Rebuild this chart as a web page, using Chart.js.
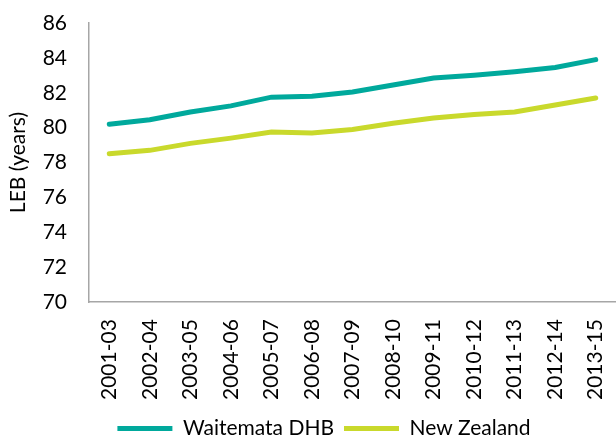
<!DOCTYPE html>
<html>
<head>
<meta charset="utf-8">
<script src="https://cdn.jsdelivr.net/npm/chart.js@4.4.1/dist/chart.umd.min.js"></script>
<style>
  html, body { margin: 0; padding: 0; background: #fff; }
  #wrap { width: 616px; height: 437px; }
</style>
</head>
<body>
<div id="wrap"><canvas id="leb"></canvas></div>
<script>
// periods (3-year windows)
var periods = ['2001-03', '2002-04', '2003-05', '2004-06', '2005-07', '2006-08', '2007-09',
               '2008-10', '2009-11', '2010-12', '2011-13', '2012-14', '2013-15'];

// life expectancy at birth, years
var waitemata = [80.2, 80.45, 80.9, 81.25, 81.75, 81.8, 82.05, 82.45, 82.85, 83.0, 83.2, 83.45, 83.9];
var newZealand = [78.5, 78.7, 79.1, 79.4, 79.75, 79.7, 79.9, 80.25, 80.55, 80.75, 80.9, 81.3, 81.7];

var yTicks = [70, 72, 74, 76, 78, 80, 82, 84, 86];

var FONT = 'Lato, "Open Sans", sans-serif';

// legend sits a bit right of centre and low in the original
var legendShift = {
    id: 'legendShift',
    afterLayout: function(chart) {
        var lg = chart.legend;
        if (lg) {
            lg.left += 32;
            lg.top -= 4;
            lg.bottom = chart.height;
        }
    }
};

var ctx = document.getElementById('leb').getContext('2d');
new Chart(ctx, {
    type: 'line',
    data: {
        labels: periods,
        datasets: [{
            label: 'Waitemata DHB',
            data: waitemata,
            borderColor: '#00a99c',
            backgroundColor: '#00a99c',
            borderWidth: 5,
            borderCapStyle: 'round',
            pointRadius: 0,
            tension: 0
        }, {
            label: 'New Zealand',
            data: newZealand,
            borderColor: '#c9d92c',
            backgroundColor: '#c9d92c',
            borderWidth: 5,
            borderCapStyle: 'round',
            pointRadius: 0,
            tension: 0
        }]
    },
    options: {
        responsive: true,
        maintainAspectRatio: false,
        animation: false,
        layout: { padding: { top: 23, right: 0, left: 0, bottom: 0 } },
        plugins: {
            tooltip: { enabled: false },
            legend: {
                position: 'bottom',
                maxHeight: 25,
                labels: {
                    usePointStyle: true,
                    pointStyle: 'line',
                    pointStyleWidth: 55,
                    padding: 10,
                    color: '#000',
                    font: { family: FONT, size: 21 }
                }
            }
        },
        scales: {
            x: {
                offset: true,
                grid: { display: false, drawTicks: false },
                border: { color: '#a6a6a6', width: 1.5 },
                ticks: {
                    color: '#000',
                    font: { family: FONT, size: 21 },
                    minRotation: 90,
                    maxRotation: 90,
                    padding: 17,
                    autoSkip: false
                },
                afterFit: function(axis) {
                    axis.paddingLeft = 0;
                    axis.paddingRight = 0;
                    axis.height -= 5;
                }
            },
            y: {
                min: 70,
                max: 86,
                afterBuildTicks: function(axis) {
                    axis.ticks = yTicks.map(function(v) { return { value: v }; });
                },
                afterFit: function(axis) {
                    axis.paddingTop = 0;
                    axis.paddingBottom = 0;
                    axis.width = 89;
                },
                grid: { display: false, drawTicks: false },
                border: { color: '#a6a6a6', width: 1.5 },
                ticks: {
                    color: '#000',
                    font: { family: FONT, size: 21 },
                    padding: 22
                },
                title: {
                    display: true,
                    text: 'LEB (years)',
                    color: '#000',
                    font: { family: FONT, size: 21 },
                    padding: { top: 6, bottom: 12 }
                }
            }
        }
    },
    plugins: [legendShift]
});
</script>
</body>
</html>
